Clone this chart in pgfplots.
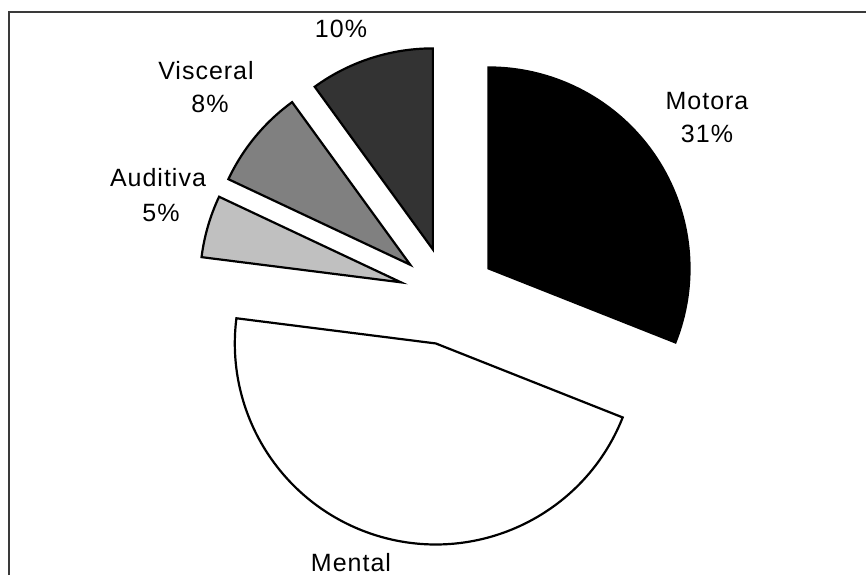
\documentclass[border=0pt]{standalone}
\usepackage{pgfplots}
\pgfplotsset{compat=1.18}
\usepackage{fontspec}
\setmainfont{Liberation Sans}[LetterSpace=4]

\definecolor{cMotora}{HTML}{000000}
\definecolor{cMental}{HTML}{FFFFFF}
\definecolor{cAuditiva}{HTML}{C0C0C0}
\definecolor{cVisceral}{HTML}{808080}
\definecolor{cOtra}{HTML}{333333}
\definecolor{frame}{HTML}{3A3A3A}

\begin{document}
\begin{tikzpicture}[
  lbl/.style={font=\fontsize{25}{30}\selectfont, inner sep=0pt, anchor=base},
  slice/.style={draw=black, line width=2.2pt, line join=miter},
]
% shares in percent, clockwise from twelve o'clock
\def\vMotora{31}
\def\vMental{46}
\def\vAuditiva{5}
\def\vVisceral{8}
\def\vOtra{10}
% pie centre, radius and explosion distance (axis units = pt)
\def\Cx{448}\def\Cy{279}\def\R{201}\def\D{49}
% slice boundary angles
\pgfmathsetmacro\aA{90}
\pgfmathsetmacro\aB{\aA-3.6*\vMotora}
\pgfmathsetmacro\aC{\aB-3.6*\vMental}
\pgfmathsetmacro\aD{\aC-3.6*\vAuditiva}
\pgfmathsetmacro\aE{\aD-3.6*\vVisceral}
\pgfmathsetmacro\aF{\aE-3.6*\vOtra}
% exploded slice apexes (pushed out along each bisector)
\pgfmathsetmacro\xA{\Cx+\D*cos((\aA+\aB)/2)}\pgfmathsetmacro\yA{\Cy+\D*sin((\aA+\aB)/2)}
\pgfmathsetmacro\xB{\Cx+\D*cos((\aB+\aC)/2)}\pgfmathsetmacro\yB{\Cy+\D*sin((\aB+\aC)/2)}
\pgfmathsetmacro\xC{\Cx+\D*cos((\aC+\aD)/2)}\pgfmathsetmacro\yC{\Cy+\D*sin((\aC+\aD)/2)}
\pgfmathsetmacro\xD{\Cx+\D*cos((\aD+\aE)/2)}\pgfmathsetmacro\yD{\Cy+\D*sin((\aD+\aE)/2)}
\pgfmathsetmacro\xE{\Cx+\D*cos((\aE+\aF)/2)}\pgfmathsetmacro\yE{\Cy+\D*sin((\aE+\aF)/2)}
\begin{axis}[
  x=1pt, y=1pt,
  xmin=0, xmax=866, ymin=0, ymax=575,
  hide axis, clip=true,
]
% chart area border
\draw[frame, line width=2pt] (axis cs:9,0) -- (axis cs:9,563) -- (axis cs:866,563);
% slices
\draw[slice, fill=cMotora]   (axis cs:\xA,\yA) -- ++(\aA:\R pt) arc[start angle=\aA, end angle=\aB, radius=\R pt] -- cycle;
\draw[slice, fill=cMental]   (axis cs:\xB,\yB) -- ++(\aB:\R pt) arc[start angle=\aB, end angle=\aC, radius=\R pt] -- cycle;
\draw[slice, fill=cAuditiva] (axis cs:\xC,\yC) -- ++(\aC:\R pt) arc[start angle=\aC, end angle=\aD, radius=\R pt] -- cycle;
\draw[slice, fill=cVisceral] (axis cs:\xD,\yD) -- ++(\aD:\R pt) arc[start angle=\aD, end angle=\aE, radius=\R pt] -- cycle;
\draw[slice, fill=cOtra]     (axis cs:\xE,\yE) -- ++(\aE:\R pt) arc[start angle=\aE, end angle=\aF, radius=\R pt] -- cycle;
% data labels
\node[lbl] at (axis cs:707,465) {Motora};
\node[lbl] at (axis cs:707,432) {\vMotora\%};
\node[lbl] at (axis cs:351,4)   {Mental};
\node[lbl] at (axis cs:158,388) {Auditiva};
\node[lbl] at (axis cs:161,353) {\vAuditiva\%};
\node[lbl] at (axis cs:206,495) {Visceral};
\node[lbl] at (axis cs:210,462) {\vVisceral\%};
\node[lbl] at (axis cs:341,537) {\vOtra\%};
\end{axis}
\pgfresetboundingbox
\path (0,0) rectangle (866pt,575pt);
\end{tikzpicture}
\end{document}
